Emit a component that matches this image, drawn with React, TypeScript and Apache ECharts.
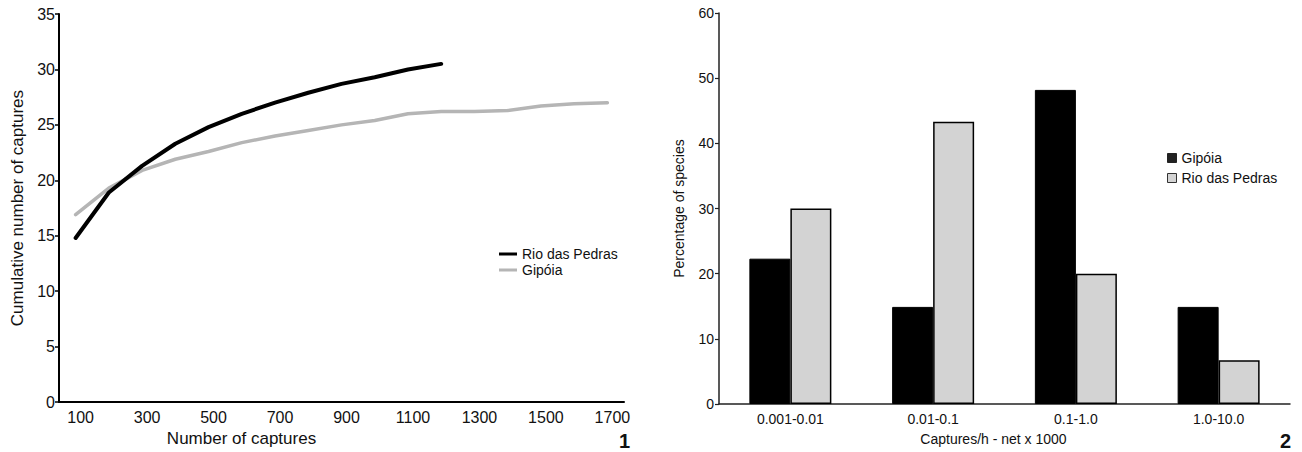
import React, { useEffect, useRef } from "react";
import * as echarts from "echarts";

const captureSteps = ["100", "200", "300", "400", "500", "600", "700", "800", "900", "1000", "1100", "1200", "1300", "1400", "1500", "1600", "1700"];
const rioCumulative = [14.8, 18.9, 21.3, 23.3, 24.8, 26.0, 27.0, 27.9, 28.7, 29.3, 30.0, 30.5];
const gipoiaCumulative = [16.9, 19.3, 20.9, 21.9, 22.6, 23.4, 24.0, 24.5, 25.0, 25.4, 26.0, 26.2, 26.2, 26.3, 26.7, 26.9, 27.0];

const rateClasses = ["0.001-0.01", "0.01-0.1", "0.1-1.0", "1.0-10.0"];
const gipoiaPercent = [22.3, 14.9, 48.2, 14.9];
const rioPercent = [30.0, 43.3, 20.0, 6.7];

const FONT = "'Liberation Sans', Arial, sans-serif";

export default function App() {
  const ref = useRef<HTMLDivElement>(null);
  useEffect(() => {
    document.body.style.margin = "0";
    const chart = echarts.init(ref.current!, null, { renderer: "svg" });
    chart.setOption({
      animation: false,
      textStyle: { fontFamily: FONT, color: "#111" },
      grid: [
        { left: 59, top: 14, width: 565, height: 389 },
        { left: 719, top: 13, width: 571, height: 391 },
      ],
      legend: [
        {
          orient: "vertical",
          left: 494,
          top: 242,
          itemWidth: 18,
          itemHeight: 3,
          itemGap: 2,
          icon: "rect",
          textStyle: { fontSize: 14, color: "#111", fontFamily: FONT },
          data: ["Rio das Pedras", "Gipóia"].map((n) => ({ name: n })),
        },
        {
          orient: "vertical",
          left: 1162,
          top: 146,
          itemWidth: 9,
          itemHeight: 9,
          itemGap: 6,
          icon: "rect",
          textStyle: { fontSize: 14, color: "#111", fontFamily: FONT },
          data: [
            { name: "Gipóia ", itemStyle: { color: "#222", borderColor: "#222", borderWidth: 1 } },
            { name: "Rio das Pedras ", itemStyle: { color: "#d3d3d3", borderColor: "#333", borderWidth: 1 } },
          ],
        },
      ],
      xAxis: [
        {
          gridIndex: 0,
          type: "category",
          data: captureSteps,
          boundaryGap: true,
          axisLine: { lineStyle: { color: "#000", width: 2 } },
          axisTick: { show: false },
          axisLabel: { interval: 1, fontSize: 16, color: "#111", margin: 7, padding: [0, 0, 0, 10] },
          name: "Number of captures",
          nameLocation: "middle",
          nameGap: 26,
          nameTextStyle: { fontSize: 17, color: "#111", padding: [0, 200, 0, 0] },
        },
        {
          gridIndex: 1,
          type: "category",
          data: rateClasses,
          boundaryGap: true,
          axisLine: { lineStyle: { color: "#222", width: 1.5 } },
          axisTick: { show: false },
          axisLabel: { fontSize: 14, color: "#111", margin: 8 },
          name: "Captures/h - net x 1000",
          nameLocation: "middle",
          nameGap: 28,
          nameTextStyle: { fontSize: 14, color: "#111", padding: [0, 22, 0, 0] },
        },
      ],
      yAxis: [
        {
          gridIndex: 0,
          type: "value",
          min: 0,
          max: 35,
          interval: 5,
          splitLine: { show: false },
          axisLine: { show: true, lineStyle: { color: "#000", width: 2 } },
          axisTick: { show: true, length: 4, lineStyle: { color: "#000", width: 1.5 } },
          axisLabel: { fontSize: 16, color: "#111", margin: 4 },
          name: "Cumulative number of captures",
          nameLocation: "middle",
          nameGap: 33,
          nameTextStyle: { fontSize: 17, color: "#111" },
        },
        {
          gridIndex: 1,
          type: "value",
          min: 0,
          max: 60,
          interval: 10,
          splitLine: { show: false },
          axisLine: { show: true, lineStyle: { color: "#222", width: 1.5 } },
          axisTick: { show: true, length: 4, lineStyle: { color: "#222", width: 1.2 } },
          axisLabel: { fontSize: 14, color: "#111", margin: 5 },
          name: "Percentage of species",
          nameLocation: "middle",
          nameGap: 33,
          nameTextStyle: { fontSize: 14, color: "#111" },
        },
      ],
      series: [
        {
          name: "Rio das Pedras",
          type: "line",
          xAxisIndex: 0,
          yAxisIndex: 0,
          data: rioCumulative,
          showSymbol: false,
          symbol: "none",
          color: "#000",
          lineStyle: { color: "#000", width: 4, cap: "round", join: "round" },
          z: 3,
        },
        {
          name: "Gipóia",
          type: "line",
          xAxisIndex: 0,
          yAxisIndex: 0,
          data: gipoiaCumulative,
          showSymbol: false,
          symbol: "none",
          color: "#b5b5b5",
          lineStyle: { color: "#b5b5b5", width: 3.5, cap: "round", join: "round" },
          z: 2,
        },
        {
          name: "Gipóia ",
          type: "bar",
          xAxisIndex: 1,
          yAxisIndex: 1,
          data: gipoiaPercent,
          barWidth: 41,
          barGap: "0%",
          itemStyle: { color: "#000", borderColor: "#000", borderWidth: 1 },
        },
        {
          name: "Rio das Pedras ",
          type: "bar",
          xAxisIndex: 1,
          yAxisIndex: 1,
          data: rioPercent,
          barWidth: 41,
          barGap: "0%",
          itemStyle: { color: "#d3d3d3", borderColor: "#000", borderWidth: 1.5 },
        },
      ],
      graphic: [
        { type: "text", left: 619, top: 431, style: { text: "1", fontSize: 20, fontWeight: "bold", fill: "#111", fontFamily: FONT } },
        { type: "text", left: 1280, top: 431, style: { text: "2", fontSize: 20, fontWeight: "bold", fill: "#111", fontFamily: FONT } },
      ],
    });
    return () => chart.dispose();
  }, []);
  return <div ref={ref} style={{ width: 1302, height: 452 }} />;
}
